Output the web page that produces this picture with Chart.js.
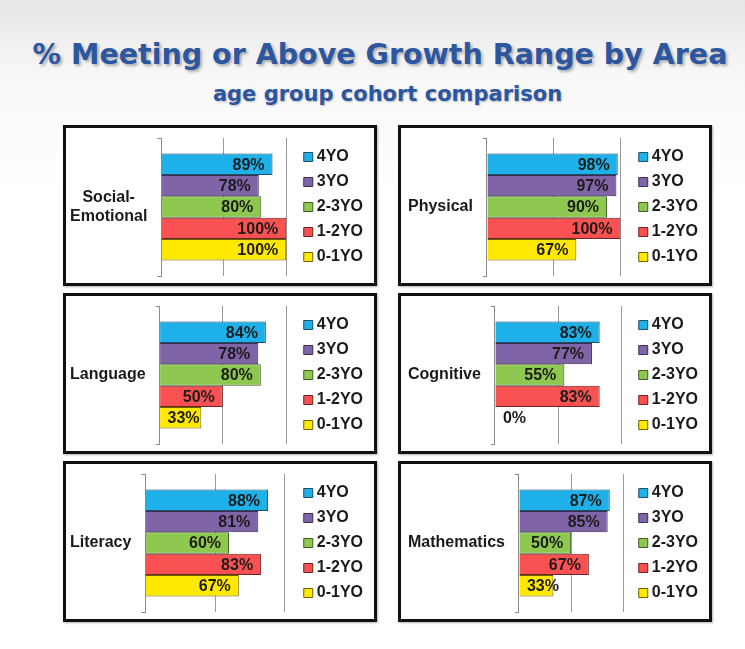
<!DOCTYPE html>
<html>
<head>
<meta charset="utf-8">
<script src="https://cdn.jsdelivr.net/npm/chart.js@4.4.0/dist/chart.umd.min.js"></script>
<style>
  body {
    margin: 0;
    width: 745px;
    height: 649px;
    background: linear-gradient(to bottom, #e6e6e6 0%, #f8f8f8 12%, #ffffff 30%, #ffffff 100%);
    font-family: "Liberation Sans", Arial, sans-serif;
    position: relative;
    overflow: hidden;
  }
  .title {
    position: absolute;
    left: 0;
    width: 760px;
    top: 38px;
    text-align: center;
    font-family: "DejaVu Sans", sans-serif;
    font-weight: bold;
    font-size: 28.5px;
    color: #2c56a0;
    text-shadow: 2px 2px 3px rgba(0, 0, 0, 0.3);
  }
  .subtitle {
    position: absolute;
    left: 0;
    width: 775px;
    top: 82px;
    text-align: center;
    font-family: "DejaVu Sans", sans-serif;
    font-weight: bold;
    font-size: 21px;
    color: #2c56a0;
    text-shadow: 1px 1px 2px rgba(0, 0, 0, 0.25);
  }
  .panel {
    position: absolute;
    width: 308px;
    height: 155px;
    border: 3px solid #111;
    background: #fff;
    box-shadow: 1px 1px 2px rgba(0, 0, 0, 0.3);
  }
  .panel canvas {
    display: block;
  }
</style>
</head>
<body>
<div class="title">% Meeting or Above Growth Range by Area</div>
<div class="subtitle">age group cohort comparison</div>

<div class="panel" style="left:63px; top:125px;"><canvas id="c0" width="308" height="155"></canvas></div>
<div class="panel" style="left:398px; top:125px;"><canvas id="c1" width="308" height="155"></canvas></div>
<div class="panel" style="left:63px; top:293px;"><canvas id="c2" width="308" height="155"></canvas></div>
<div class="panel" style="left:398px; top:293px;"><canvas id="c3" width="308" height="155"></canvas></div>
<div class="panel" style="left:63px; top:461px;"><canvas id="c4" width="308" height="155"></canvas></div>
<div class="panel" style="left:398px; top:461px;"><canvas id="c5" width="308" height="155"></canvas></div>

<script>
// 数据
const areas = [['Social-', 'Emotional'], 'Physical', 'Language', 'Cognitive', 'Literacy', 'Mathematics'];
const ageGroups = ['4YO', '3YO', '2-3YO', '1-2YO', '0-1YO'];
const socialEmotional = [89, 78, 80, 100, 100];
const physical = [98, 97, 90, 100, 67];
const language = [84, 78, 80, 50, 33];
const cognitive = [83, 77, 55, 83, 0];
const literacy = [88, 81, 60, 83, 67];
const mathematics = [87, 85, 50, 67, 33];
const gridTicks = [0, 50, 100];

const areaValues = [socialEmotional, physical, language, cognitive, literacy, mathematics];

const fillColors = ['#1eb0e8', '#8064a8', '#8ec850', '#fa5252', '#ffe800'];
const lineColors = ['#1d4f66', '#3a2d4f', '#3f5a22', '#6b2323', '#6b6200'];
const labelFont = 'bold 16px "Liberation Sans", Arial, sans-serif';

// 柱子末端的百分比标签
const valueLabels = {
    id: 'valueLabels',
    afterDatasetsDraw(chart) {
        const ctx = chart.ctx;
        const base = chart.scales.x.getPixelForValue(0);
        ctx.save();
        ctx.font = labelFont;
        ctx.fillStyle = '#1c1c1c';
        ctx.textBaseline = 'middle';
        ctx.textAlign = 'left';
        chart.data.datasets.forEach((ds, i) => {
            const bar = chart.getDatasetMeta(i).data[0];
            const text = ds.data[0] + '%';
            const w = ctx.measureText(text).width;
            const left = Math.max(bar.x - 8 - w, base + 8);
            ctx.fillText(text, left, bar.y + 1);
        });
        ctx.restore();
    }
};

areaValues.forEach((values, n) => {
    const rightCol = n % 2 === 1;
    new Chart(document.getElementById('c' + n), {
        type: 'bar',
        data: {
            labels: [areas[n]],
            datasets: ageGroups.map((g, i) => ({
                label: g,
                data: [values[i]],
                backgroundColor: fillColors[i],
                borderColor: lineColors[i],
                borderWidth: 1,
                barPercentage: 1.0,
                categoryPercentage: 0.775
            }))
        },
        options: {
            indexAxis: 'y',
            responsive: false,
            animation: false,
            layout: {
                padding: { left: rightCol ? 7 : 4, right: 1, top: 10, bottom: 7 }
            },
            scales: {
                x: {
                    min: 0,
                    max: 110,
                    afterBuildTicks: axis => {
                        axis.ticks = gridTicks.map(v => ({ value: v }));
                    },
                    ticks: { display: false },
                    grid: { color: '#9a9a9a', lineWidth: 1, drawTicks: false },
                    border: { display: false }
                },
                y: {
                    afterFit: axis => {
                        // 不让标签高度挤压绘图区，并给足标签宽度
                        axis.paddingTop = 0;
                        axis.paddingBottom = 0;
                        const ctx = axis.ctx;
                        ctx.save();
                        ctx.font = labelFont;
                        const lines = [].concat(areas[n]);
                        const widest = Math.max(...lines.map(s => ctx.measureText(s).width));
                        ctx.restore();
                        axis.width = widest + 14;
                    },
                    ticks: {
                        color: '#1a1a1a',
                        padding: 10,
                        crossAlign: 'center',
                        font: { family: '"Liberation Sans", Arial, sans-serif', size: 16, weight: 'bold' }
                    },
                    grid: { drawOnChartArea: false, tickLength: 4, color: '#8a8a8a' },
                    border: { display: true, color: '#8a8a8a', width: 1 }
                }
            },
            plugins: {
                legend: {
                    position: 'right',
                    labels: {
                        usePointStyle: true,
                        pointStyle: 'rect',
                        boxWidth: 1,
                        boxHeight: 9,
                        padding: 9,
                        color: '#1a1a1a',
                        font: { family: '"Liberation Sans", Arial, sans-serif', size: 16, weight: 'bold' }
                    }
                },
                tooltip: { enabled: false }
            }
        },
        plugins: [valueLabels]
    });
});
</script>
</body>
</html>
